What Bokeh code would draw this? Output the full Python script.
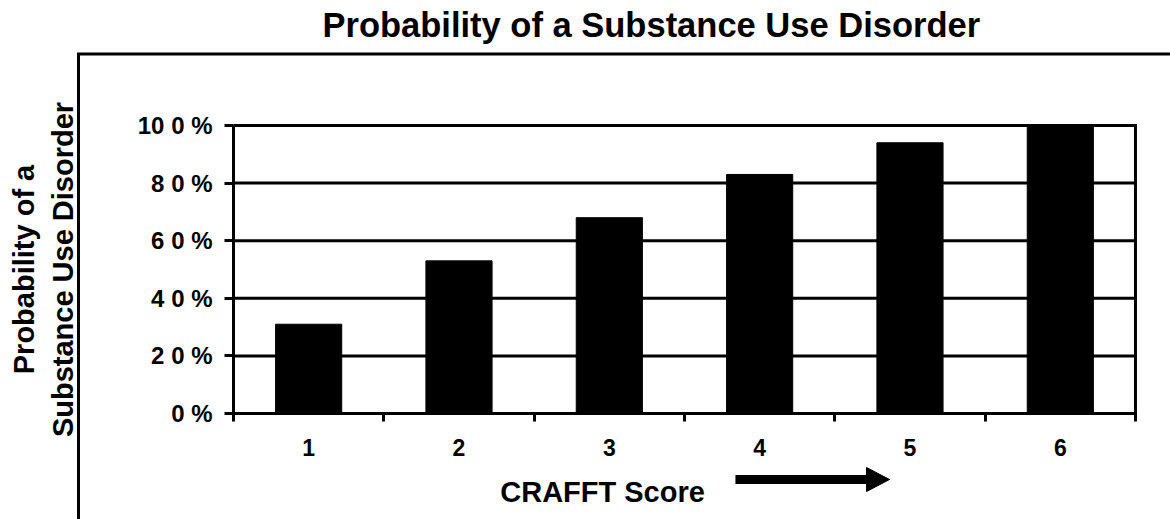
from bokeh.plotting import figure
from bokeh.models import FixedTicker, Range1d
from bokeh.core.properties import value
from bokeh.embed import file_html
from bokeh.resources import INLINE

# ---- data ----
scores = [1, 2, 3, 4, 5, 6]
probability = [31, 53, 68, 83, 94, 100]
y_ticks = [0, 20, 40, 60, 80, 100]
y_tick_labels = ["0 %", "2 0 %", "4 0 %", "6 0 %", "8 0 %", "10 0 %"]
x_tick_labels = ["1", "2", "3", "4", "5", "6"]
title_text = "Probability of a Substance Use Disorder"
y_title = "Probability of a\nSubstance Use Disorder"
x_title = "CRAFFT Score"

FONT = "Liberation Sans"

x_lo, x_hi = scores[0] - 0.5, scores[-1] + 0.5
y_lo, y_hi = y_ticks[0], y_ticks[-1]

# The frame covers the whole page below the title; the chart itself sits inside it.
p = figure(width=1170, height=519, output_backend="svg", toolbar_location=None,
           x_range=Range1d(-1.0499, 6.7330),
           y_range=Range1d(-36.806, 128.125),
           min_border_left=0, min_border_right=0,
           min_border_top=44, min_border_bottom=0)

p.background_fill_color = "white"
p.border_fill_color = "white"
p.outline_line_color = None
p.xgrid.grid_line_color = None
p.ygrid.grid_line_color = None

# outer box (left and top edges, the rest lies outside the picture)
p.line(x=[-0.531, -0.531, 7.5], y=[-60, 124.83, 124.83],
       line_color="black", line_width=3, line_join="miter")

# horizontal grid lines, limited to the chart area
p.segment(x0=[x_lo] * len(y_ticks), y0=y_ticks, x1=[x_hi] * len(y_ticks), y1=y_ticks,
          line_color="black", line_width=3)
# right edge of the chart area
p.segment(x0=[x_hi], y0=[y_lo], x1=[x_hi], y1=[y_hi],
          line_color="black", line_width=3, line_cap="square")

# bars
p.vbar(x=scores, top=probability, width=0.44, fill_color="black", line_color="black")

# title
p.title.text = title_text
p.title.text_font = FONT
p.title.text_font_style = "bold"
p.title.text_font_size = "34.5px"
p.title.text_color = "black"
p.title.align = "left"
p.title.offset = 322
p.title.standoff = 2

# y axis placed inside the frame at x = 0.5
ya = p.yaxis[0]
ya.fixed_location = x_lo
ya.bounds = (y_lo, y_hi)
ya.ticker = FixedTicker(ticks=y_ticks)
ya.major_label_overrides = {t: l for t, l in zip(y_ticks, y_tick_labels)}
ya.axis_line_width = 3
ya.axis_line_color = "black"
ya.major_tick_line_width = 3
ya.major_tick_out = 9
ya.major_tick_in = 0
ya.minor_tick_line_color = None
ya.major_label_standoff = 12
ya.major_label_text_font = FONT
ya.major_label_text_font_style = "bold"
ya.major_label_text_font_size = "24px"
ya.major_label_text_color = "black"
ya.axis_label = y_title
ya.axis_label_text_font = FONT
ya.axis_label_text_font_style = "bold"
ya.axis_label_text_font_size = "29px"
ya.axis_label_text_color = "black"
ya.axis_label_text_line_height = 1.2
ya.axis_label_standoff = 56

# x axis placed inside the frame at y = 0
xa = p.xaxis[0]
xa.fixed_location = y_lo
xa.bounds = (x_lo, x_hi)
boundaries = [s - 0.5 for s in scores] + [scores[-1] + 0.5]
xa.ticker = FixedTicker(ticks=scores, minor_ticks=boundaries)
xa.major_label_overrides = {s: l for s, l in zip(scores, x_tick_labels)}
xa.axis_line_width = 3
xa.axis_line_color = "black"
xa.major_tick_line_color = None
xa.major_tick_out = 0
xa.major_tick_in = 0
xa.minor_tick_line_color = "black"
xa.minor_tick_line_width = 3
xa.minor_tick_out = 8
xa.minor_tick_in = 0
xa.major_label_standoff = 18
xa.major_label_text_font = FONT
xa.major_label_text_font_style = "bold"
xa.major_label_text_font_size = "23px"
xa.major_label_text_color = "black"

# x title with arrow
p.text(x=[2.955], y=[-27.1], text=[x_title], text_align="center",
       text_baseline="alphabetic", text_font=value(FONT), text_font_style="bold",
       text_font_size="29px", text_color="black")
arrow_y = -22.92
p.segment(x0=[3.839], y0=[arrow_y], x1=[4.72], y1=[arrow_y],
          line_color="black", line_width=9)
p.patch(x=[4.711, 4.864, 4.711], y=[arrow_y + 4.17, arrow_y, arrow_y - 4.17],
        fill_color="black", line_color="black", line_width=1)

open("out.html", "w").write(file_html(p, INLINE))
